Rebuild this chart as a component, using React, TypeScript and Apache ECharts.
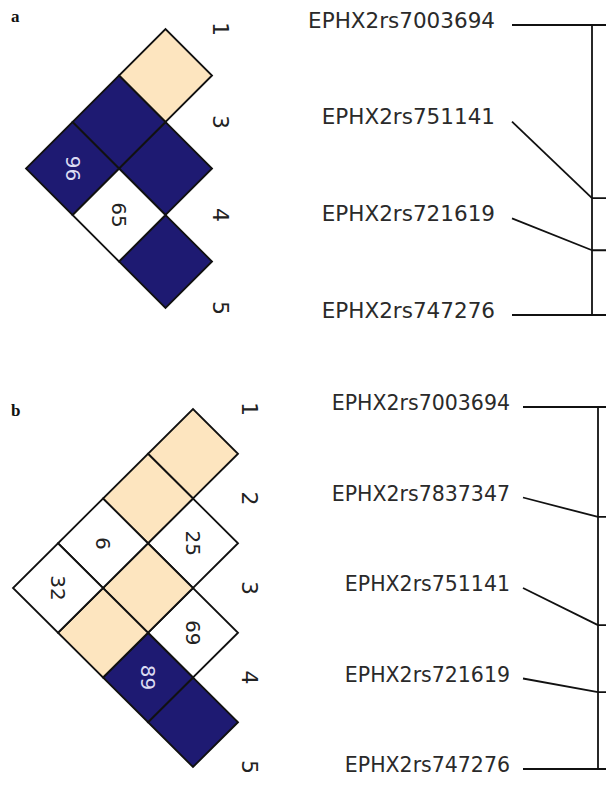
import React, { useEffect, useRef } from 'react';
import * as echarts from 'echarts';

// ---------- Panel a data ----------
const markersA = ['1', '3', '4', '5'];
const pairsA = [[0, 1], [1, 2], [2, 3], [0, 2], [1, 3], [0, 3]];
const ldValuesA = [null, null, null, null, 65, 96];
const ldColorsA = ['beige', 'blue', 'blue', 'blue', 'white', 'blue'];
const snpsA = ['EPHX2rs7003694', 'EPHX2rs751141', 'EPHX2rs721619', 'EPHX2rs747276'];
const attachA = [0, 1.79, 2.33, 3];

// ---------- Panel b data ----------
const markersB = ['1', '2', '3', '4', '5'];
const pairsB = [[0, 1], [1, 2], [2, 3], [3, 4], [0, 2], [1, 3], [2, 4], [0, 3], [1, 4], [0, 4]];
const ldValuesB = [null, 25, 69, null, null, null, 89, 6, null, 32];
const ldColorsB = ['beige', 'white', 'white', 'blue', 'beige', 'beige', 'blue', 'white', 'beige', 'white'];
const snpsB = ['EPHX2rs7003694', 'EPHX2rs7837347', 'EPHX2rs751141', 'EPHX2rs721619', 'EPHX2rs747276'];
const attachB = [0, 1.215, 2.41, 3.15, 4];

const COLORS: Record<string, string> = { blue: '#1e1a72', beige: '#fde5bf', white: '#ffffff' };
const TEXT_ON: Record<string, string> = { blue: '#dcdcf2', beige: '#222', white: '#222' };
const FONT = 'DejaVu Sans';

function ldSeries(gridIdx: number, pairs: number[][], values: (number | null)[], colors: string[]) {
  return {
    type: 'custom',
    coordinateSystem: 'cartesian2d',
    xAxisIndex: gridIdx,
    yAxisIndex: gridIdx,
    clip: false,
    data: pairs,
    renderItem: (params: any, api: any) => {
      const i = api.value(0);
      const j = api.value(1);
      const g = j - i;
      const cx = -g;
      const cy = (i + j) / 2;
      const pts = [
        api.coord([cx + 1, cy]),
        api.coord([cx, cy + 0.5]),
        api.coord([cx - 1, cy]),
        api.coord([cx, cy - 0.5]),
      ];
      const c = api.coord([cx, cy]);
      const key = colors[params.dataIndex];
      const val = values[params.dataIndex];
      const children: any[] = [
        {
          type: 'polygon',
          shape: { points: pts },
          style: { fill: COLORS[key], stroke: '#111', lineWidth: 1.8, lineJoin: 'miter' },
        },
      ];
      if (val !== null && val !== undefined) {
        children.push({
          type: 'text',
          x: c[0],
          y: c[1],
          rotation: -Math.PI / 2,
          style: {
            text: String(val),
            x: 0,
            y: 0,
            align: 'center',
            verticalAlign: 'middle',
            fill: TEXT_ON[key],
            font: `20px "${FONT}"`,
          },
        });
      }
      return { type: 'group', children };
    },
  };
}

function markerSeries(gridIdx: number, markers: string[], dx: number) {
  return {
    type: 'custom',
    coordinateSystem: 'cartesian2d',
    xAxisIndex: gridIdx,
    yAxisIndex: gridIdx,
    clip: false,
    data: markers.map((_, k) => [0, k]),
    renderItem: (params: any, api: any) => {
      const p = api.coord([api.value(0), api.value(1)]);
      return {
        type: 'text',
        x: p[0] + dx,
        y: p[1],
        rotation: -Math.PI / 2,
        style: {
          text: markers[params.dataIndex],
          x: 0,
          y: 0,
          align: 'center',
          verticalAlign: 'middle',
          fill: '#222',
          font: `22px "${FONT}"`,
        },
      };
    },
  };
}

// dy: pixel offset of the connector lines below the label centres
function dendroSeries(gridIdx: number, attach: number[], dy: number) {
  return [
    {
      type: 'custom',
      coordinateSystem: 'cartesian2d',
      xAxisIndex: gridIdx,
      yAxisIndex: gridIdx,
      clip: false,
      data: attach.map((a, k) => [k, a]),
      renderItem: (params: any, api: any) => {
        const leaf = api.value(0);
        const a = api.value(1);
        const p0 = api.coord([0, leaf]);
        const p1 = api.coord([1, a]);
        const p2 = api.coord([1.5, a]);
        return {
          type: 'group',
          y: dy,
          children: [
            { type: 'line', shape: { x1: p0[0], y1: p0[1], x2: p1[0], y2: p1[1] }, style: { stroke: '#111', lineWidth: 1.8 } },
            { type: 'line', shape: { x1: p1[0], y1: p1[1], x2: p2[0], y2: p2[1] }, style: { stroke: '#111', lineWidth: 1.8 } },
          ],
        };
      },
    },
    {
      type: 'custom',
      coordinateSystem: 'cartesian2d',
      xAxisIndex: gridIdx,
      yAxisIndex: gridIdx,
      clip: false,
      data: [[attach[0], attach[attach.length - 1]]],
      renderItem: (params: any, api: any) => {
        const a = api.coord([1, api.value(0)]);
        const b = api.coord([1, api.value(1)]);
        return {
          type: 'line',
          y: dy,
          shape: { x1: a[0], y1: a[1] - 0.9, x2: b[0], y2: b[1] + 0.9 },
          style: { stroke: '#111', lineWidth: 1.8 },
        };
      },
    },
  ];
}

function dendroYAxis(gridIdx: number, names: string[], margin: number, fontSize: number) {
  return {
    type: 'value',
    gridIndex: gridIdx,
    min: 0,
    max: names.length - 1,
    interval: 1,
    inverse: true,
    axisLine: { show: false },
    axisTick: { show: false },
    splitLine: { show: false },
    axisLabel: {
      show: true,
      showMinLabel: true,
      showMaxLabel: true,
      margin,
      color: '#2a2a2a',
      fontFamily: FONT,
      fontSize,
      formatter: (v: number) => names[Math.round(v)] ?? '',
    },
  };
}

const hiddenAxis = (gridIdx: number, min: number, max: number, inverse = false) => ({
  type: 'value',
  gridIndex: gridIdx,
  min,
  max,
  inverse,
  show: false,
});

export default function App() {
  const ref = useRef<HTMLDivElement>(null);
  useEffect(() => {
    if (!ref.current) return;
    const chart = echarts.init(ref.current, undefined, { renderer: 'svg' });
    const option: any = {
      animation: false,
      backgroundColor: '#ffffff',
      grid: [
        { left: 26, top: 29, width: 186, height: 279 },
        { left: 13, top: 409, width: 225, height: 358 },
        { left: 512, top: 20, width: 80, height: 290 },
        { left: 523, top: 403, width: 75, height: 362 },
      ],
      xAxis: [
        hiddenAxis(0, -4, 0),
        hiddenAxis(1, -5, 0),
        hiddenAxis(2, 0, 1),
        hiddenAxis(3, 0, 1),
      ],
      yAxis: [
        hiddenAxis(0, 0, markersA.length - 1, true),
        hiddenAxis(1, 0, markersB.length - 1, true),
        dendroYAxis(2, snpsA, 17, 21.5),
        dendroYAxis(3, snpsB, 13, 20.5),
      ],
      graphic: [
        { type: 'text', left: 11, top: 8, style: { text: 'a', font: 'bold 17px "Liberation Serif"', fill: '#111' } },
        { type: 'text', left: 11, top: 402, style: { text: 'b', font: 'bold 17px "Liberation Serif"', fill: '#111' } },
      ],
      series: [
        ldSeries(0, pairsA, ldValuesA, ldColorsA),
        ldSeries(1, pairsB, ldValuesB, ldColorsB),
        markerSeries(0, markersA, 8),
        markerSeries(1, markersB, 11),
        ...dendroSeries(2, attachA, 5),
        ...dendroSeries(3, attachB, 4),
      ],
    };
    chart.setOption(option);
    return () => chart.dispose();
  }, []);
  return <div ref={ref} style={{ position: 'fixed', left: 0, top: 0, width: 606, height: 785 }} />;
}
